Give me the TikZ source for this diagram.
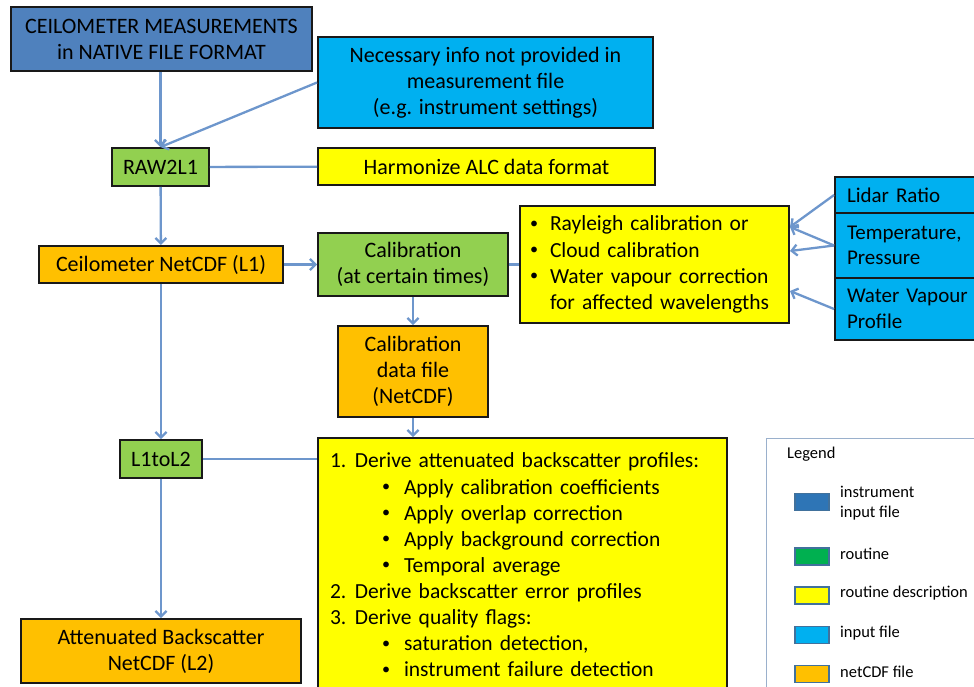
\documentclass[tikz,border=0pt]{standalone}
\usepackage{fontspec}
\setmainfont{Carlito}
\usetikzlibrary{arrows.meta}

\definecolor{instblue}{HTML}{4F81BD}
\definecolor{infilecyan}{HTML}{00B0F0}
\definecolor{routinegreen}{HTML}{92D050}
\definecolor{descyellow}{HTML}{FFFF00}
\definecolor{netcdforange}{HTML}{FFC000}
\definecolor{flowblue}{HTML}{6D96CC}
\definecolor{legendedge}{HTML}{9AB0CC}
\definecolor{swatchedge}{HTML}{41719C}
\definecolor{leginst}{HTML}{2E75B6}
\definecolor{legroutine}{HTML}{00B050}

\newcommand{\dotmark}{\raisebox{0.12em}{\scalebox{0.75}{\textbullet}}}
\newcommand{\bul}{\makebox[23pt][l]{\hspace*{3pt}\dotmark}}
\newcommand{\subbul}{\hspace*{52pt}\makebox[22pt][l]{\dotmark}}
\newcommand{\numb}[1]{\makebox[25pt][l]{#1}}

\begin{document}
\begin{tikzpicture}[x=1pt,y=-1pt,
    every node/.style={font=\fontsize{22}{26}\selectfont},
    box/.style={draw=black!90, line width=1.9pt, inner sep=0pt, align=center},
    instfile/.style={box, fill=instblue},
    infile/.style={box, fill=infilecyan},
    routine/.style={box, fill=routinegreen},
    descr/.style={box, fill=descyellow, font=\fontsize{21.5}{26.1}\selectfont},
    netcdf/.style={box, fill=netcdforange},
    sidefile/.style={infile, text width=126pt, inner xsep=12pt, align=left, font=\fontsize{21}{25.5}\selectfont},
    flow/.style={draw=flowblue, line width=2.3pt, -{Straight Barb[length=5.5pt,width=11pt]}},
    link/.style={draw=flowblue, line width=2.3pt},
    swatch/.style={draw=swatchedge, line width=1.6pt, minimum width=34pt, minimum height=17pt, inner sep=0pt},
    legtext/.style={font=\fontsize{16.5}{19.5}\selectfont, anchor=west, align=left, inner sep=0pt}]
  \useasboundingbox (0,0) rectangle (974,687);
  \clip (0,0) rectangle (974,687);

  % main column
  \node[instfile, minimum width=301pt, minimum height=64pt] (meas) at (161.5,39) {CEILOMETER MEASUREMENTS\\in NATIVE FILE FORMAT};
  \node[routine, minimum width=97pt, minimum height=38pt] (raw) at (160.5,167) {RAW2L1};
  \node[netcdf, minimum width=244pt, minimum height=37pt] (l1) at (161,264.5) {Ceilometer NetCDF (L1)};
  \node[routine, minimum width=82pt, minimum height=38pt] (l2proc) at (161,459) {L1toL2};
  \node[netcdf, minimum width=280pt, minimum height=64pt] (att) at (161,651) {Attenuated Backscatter\\NetCDF (L2)};

  % inputs and descriptions
  \node[infile, minimum width=335pt, minimum height=91pt] (info) at (485.5,82.5) {Necessary info not provided in\\measurement file\\(e.g. instrument settings)};
  \node[descr, minimum width=337pt, minimum height=37pt, font=\fontsize{22}{26}\selectfont] (harm) at (486.5,166.5) {Harmonize ALC data format};
  \node[routine, minimum width=190pt, minimum height=63pt] (calib) at (413,264.5) {Calibration\\(at certain times)};
  \node[descr, text width=255pt, inner xsep=7pt, minimum height=117pt, align=left] (calibdesc) at (654.5,264.5) {\bul Rayleigh calibration or\\\bul Cloud calibration\\\bul Water vapour correction\\\hspace*{23pt}for affected wavelengths};
  \node[sidefile, minimum height=36pt] (lidar) at (910,195) {Lidar Ratio};
  \node[sidefile, minimum height=65pt] (temp) at (910,245.5) {Temperature,\\Pressure};
  \node[sidefile, minimum height=62pt] (wv) at (910,309) {Water Vapour\\Profile};
  \node[netcdf, minimum width=150pt, minimum height=91pt] (calfile) at (413,371.5) {Calibration\\data file\\(NetCDF)};
  \node[descr, text width=385pt, inner xsep=12pt, minimum height=254pt, align=left] (l2desc) at (522.5,565) {\numb{1.}Derive attenuated backscatter profiles:\\
    \subbul Apply calibration coefficients\\
    \subbul Apply overlap correction\\
    \subbul Apply background correction\\
    \subbul Temporal average\\
    \numb{2.}Derive backscatter error profiles\\
    \numb{3.}Derive quality flags:\\
    \subbul saturation detection,\\
    \subbul instrument failure detection};

  \coordinate (rayin) at (790,227);
  \coordinate (cloudin) at (790,251);
  \coordinate (wvin) at (790,291);

  % legend
  \node[draw=legendedge, line width=1pt, minimum width=224pt, minimum height=262pt, inner sep=0pt] (legend) at (878,569) {};
  \node[legtext] (legtitle) at (787,454) {Legend};
  \node[swatch, fill=leginst] (sw1) at (812,502) {};
  \node[legtext] (lt1) at (840,503) {instrument\\input file};
  \node[swatch, fill=legroutine] (sw2) at (812,556.5) {};
  \node[legtext] (lt2) at (840,554) {routine};
  \node[swatch, fill=descyellow] (sw3) at (812,595.5) {};
  \node[legtext] (lt3) at (840,593) {routine description};
  \node[swatch, fill=infilecyan] (sw4) at (812,635) {};
  \node[legtext] (lt4) at (840,633) {input file};
  \node[swatch, fill=netcdforange] (sw5) at (812,674) {};
  \node[legtext] (lt5) at (840,672) {netCDF file};

  \begin{scope}
    \draw[flow] (raw |- meas.south) to (raw.north);
    \draw[flow] (info.west) to (raw.north);
    \draw[link] (raw) to (harm);
    \draw[flow] (raw) to (l1);
    \draw[flow] (l1) to (calib);
    \draw[link] (calib) to (calibdesc);
    \draw[flow] (lidar.west) to (rayin);
    \draw[flow] (temp.west) to (rayin);
    \draw[flow] (temp.west) to (cloudin);
    \draw[flow] (wv.west) to (wvin);
    \draw[flow] (calib) to (calfile);
    \draw[flow] (calfile.south) to (calfile.south |- l2desc.north);
    \draw[flow] (l1) to (l2proc);
    \draw[link] (l2proc) to (l2proc -| l2desc.west);
    \draw[flow] (l2proc) to (att);
  \end{scope}
\end{tikzpicture}
\end{document}
